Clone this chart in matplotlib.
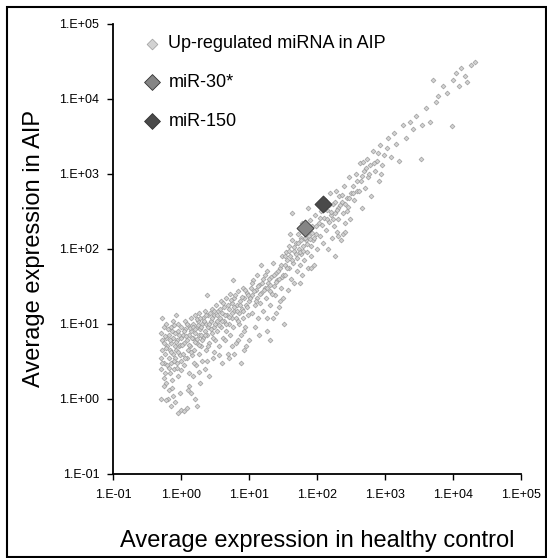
import numpy as np
import matplotlib.pyplot as plt
from matplotlib.ticker import FixedLocator, FuncFormatter, NullLocator
from matplotlib.patches import Rectangle

plt.rcParams['font.family'] = ['Liberation Sans', 'DejaVu Sans']

# average expression in healthy control (x) and in AIP (y)
ctrl = [
    0.5, 0.5, 0.5, 0.52, 0.52, 0.5, 0.52, 0.55, 0.55, 0.55, 0.58, 0.58, 0.6, 0.6, 0.6, 0.62, 0.62,
    0.65, 0.65, 0.65, 0.68, 0.68, 0.7, 0.7, 0.7, 0.72, 0.75, 0.75, 0.75, 0.78, 0.8, 0.8, 0.8, 0.82,
    0.85, 0.85, 0.88, 0.88, 0.9, 0.9, 0.92, 0.95, 0.95, 0.98, 1.0, 1.0, 1.0, 0.7, 0.75, 0.55,
    1.1, 1.2, 1.4, 1.6, 1.7, 1.3, 0.9,
    0.53, 0.57, 0.6, 0.63, 0.66, 0.69, 0.71, 0.74, 0.77, 0.79, 0.83, 0.86, 0.89, 0.91, 0.94, 0.97,
    0.99, 0.56, 0.64, 0.72, 0.6,
    1.05, 1.05, 1.1, 1.1, 1.15, 1.15, 1.2, 1.2, 1.25, 1.25, 1.3, 1.3, 1.35, 1.4, 1.4, 1.45, 1.5, 1.5,
    1.55, 1.6, 1.6, 1.65, 1.7, 1.7, 1.75, 1.8, 1.8, 1.85, 1.9, 1.95, 2.0, 2.0, 2.1, 2.1, 2.2, 2.2,
    2.3, 2.3, 2.4, 2.4, 2.5, 2.5, 2.6, 2.7, 2.8, 2.8, 2.9, 3.0, 3.0, 3.1, 3.2, 1.5, 2.2, 2.6, 1.9,
    1.02, 1.08, 1.12, 1.18, 1.22, 1.28, 1.33, 1.38, 1.42, 1.48, 1.52, 1.58, 1.62, 1.68, 1.72, 1.78,
    1.83, 1.88, 1.92, 1.98, 2.05, 2.15, 2.25, 2.35, 2.45, 2.55, 2.65, 2.75, 2.85, 2.95, 3.05, 3.15,
    1.25, 1.8, 2.4, 3.0,
    3.3, 3.4, 3.5, 3.6, 3.7, 3.8, 3.9, 4.0, 4.1, 4.2, 4.3, 4.5, 4.5, 4.7, 4.8, 5.0, 5.0, 5.2, 5.3,
    5.5, 5.5, 5.7, 5.8, 6.0, 6.0, 6.3, 6.4, 6.5, 6.8, 7.0, 7.0, 7.3, 7.5, 7.8, 8.0, 8.0, 8.3, 8.5,
    8.8, 9.0, 9.2, 9.5, 9.8, 10, 4.0, 5.0, 6.0, 7.5, 9,
    3.35, 3.55, 3.75, 3.95, 4.15, 4.35, 4.6, 4.9, 5.1, 5.4, 5.6, 5.9, 6.2, 6.6, 6.9, 7.2, 7.7, 8.2,
    8.7, 9.3, 9.7, 5.5, 6.8, 8.5, 4.4, 3.6,
    10.5, 11, 11, 11.5, 12, 12, 12.5, 13, 13, 13.5, 14, 14.5, 15, 15, 16, 16, 17, 17.5, 18, 18,
    19, 20, 20, 21, 22, 22, 23, 24, 25, 26, 27, 28, 29, 30, 30, 31, 32, 14, 20,
    10.2, 10.8, 11.8, 12.6, 13.3, 14.2, 15.5, 16.5, 17.2, 18.5, 19.5, 20.5, 21.5, 23.5, 24.5, 26.5,
    27.5, 29.5, 31.5, 25, 18, 28,
    33, 34, 35, 36, 37, 38, 39, 40, 41, 42, 43, 44, 45, 46, 48, 50, 50, 52, 53, 55, 57, 58, 60, 60,
    62, 64, 66, 68, 70, 72, 72, 75, 78, 80, 82, 85, 88, 90, 92, 95, 98,
    33, 36, 39, 42, 45, 48, 52, 55, 58, 62, 66, 70, 74, 78, 84, 90, 96, 40, 55, 80,
    105, 110, 115, 120, 125, 130, 135, 140, 145, 150, 155, 160, 165, 170, 175, 180, 190, 195, 200,
    205, 210, 220, 230, 240, 250, 260, 270, 280, 290, 300, 310, 180, 240,
    108, 118, 128, 138, 148, 158, 172, 185, 198, 215, 235, 255, 275, 295, 205, 260,
    330, 350, 370, 390, 420, 440, 460, 480, 500, 530, 560, 600, 620, 650, 700, 750, 800, 850, 900, 950,
    340, 380, 410, 450, 470, 520, 580, 680, 780, 880,
    1050, 1100, 1200, 1350, 1450, 1600, 1800, 2000, 2300, 2600, 2800,
    3300, 3500, 4000, 4500, 5000, 5500, 6000, 7000, 8000, 9500, 9800,
    11000, 12000, 13000, 15000, 18000, 21000, 16000,
]
aip = [
    1.0, 2.5, 3.5, 4.5, 6, 7.5, 12, 3, 5.5, 9, 2.2, 4, 1.6, 6.5, 10, 2.8, 5,
    3.5, 7, 1.3, 4.5, 2.2, 9, 5.5, 3, 1.8, 4, 6.5, 11, 2.5, 5, 3.5, 0.9, 7.5,
    4.5, 13, 3, 6, 2, 8, 5, 3.8, 1.2, 6.5, 9, 0.7, 3.2, 0.8, 1.1, 1.5,
    0.68, 0.75, 1.2, 1.0, 0.8, 1.5, 0.65,
    3.0, 6.8, 4.8, 8.5, 2.6, 6, 4.2, 8, 3.2, 9.5, 5.8, 2.6, 10, 4.2, 7, 5.2,
    2.4, 1.9, 1.0, 1.4, 0.95,
    4, 7, 5.5, 2.8, 8.5, 11, 3.5, 6, 4.5, 9.5, 7, 2.2, 5, 12, 8, 3.8, 6.5, 10,
    4.5, 13, 7.5, 2.8, 9, 5.5, 11, 4, 7, 14, 8.5, 5, 10, 3.2, 12, 6.5, 8, 15,
    4.5, 10, 24, 7, 13, 9, 5.5, 11, 16, 7.5, 3.5, 13, 9, 6, 18, 2.0, 2.5, 2.0, 1.6,
    5.2, 8, 3.5, 6.8, 10, 5.2, 8.8, 4.2, 6.5, 9, 3, 5.8, 8.5, 11.5, 6.2, 9.5,
    5.2, 12, 7.2, 9, 6, 11, 7, 13, 5, 10, 14, 8.5, 12, 6.5, 15, 10,
    1.3, 2.3, 3.2, 4.2,
    11, 8, 15, 5, 12, 20, 9, 14, 6.5, 17, 11, 22, 8, 13, 4, 16, 10, 25, 7,
    19, 12, 38, 9, 15, 22, 5.5, 12, 18, 27, 10, 14, 20, 7, 16, 30, 12, 4.5, 22,
    9, 18, 26, 13, 6, 20, 3, 3.5, 4, 3, 5,
    13, 9.5, 16, 11, 19, 13, 10, 18, 12.5, 21, 14, 17, 24, 15, 11, 18, 23, 15,
    28, 17, 24, 5, 6, 8, 6, 3.8,
    30, 14, 24, 38, 18, 9, 28, 45, 22, 12, 33, 19, 26, 60, 40, 15, 30, 22, 50, 8,
    35, 18, 27, 42, 65, 12, 32, 24, 48, 38, 17, 55, 30, 80, 42, 22, 10, 7, 6,
    22, 35, 27, 20, 32, 25, 35, 28, 45, 30, 40, 33, 25, 45, 36, 50,
    40, 60, 45, 14, 12, 20,
    60, 45, 90, 70, 28, 110, 55, 80, 40, 130, 300, 65, 95, 35, 120, 75, 50, 160, 100, 60, 140, 85, 45, 220,
    110, 70, 175, 130, 90, 350, 55, 150, 240, 110, 80, 200, 130, 60, 280, 160, 100,
    80, 55, 95, 70, 105, 85, 120, 90, 130, 95, 140, 115, 180, 135, 165, 140, 200, 160, 35, 55,
    220, 150, 320, 120, 260, 450, 180, 330, 100, 230, 550, 280, 140, 400, 200, 300, 600, 170, 350,
    250, 500, 130, 420, 300, 700, 220, 480, 360, 900, 250, 550, 80, 160,
    260, 210, 340, 250, 380, 310, 250, 420, 330, 380, 520, 400, 320, 480, 150, 170,
    700, 450, 1000, 600, 1400, 800, 350, 1100, 650, 1600, 900, 1300, 500, 2000, 1100, 1500, 800, 2400, 1300, 1800,
    550, 800, 600, 950, 1450, 1200, 1000, 1400, 1900, 1000,
    2200, 3000, 1700, 3500, 2500, 1500, 4500, 3000, 5000, 4000, 6000,
    1600, 4500, 7500, 5000, 18000, 9000, 11000, 15000, 12000, 4400, 18000,
    22000, 15000, 26000, 20000, 28000, 31000, 17000,
]

highlight_names = ['miR-30*', 'miR-150']
highlight_ctrl = [65, 122]
highlight_aip = [190, 393]
highlight_colors = ['#858585', '#4a4a4a']

decades = [1e-1, 1e0, 1e1, 1e2, 1e3, 1e4, 1e5]

fig = plt.figure(figsize=(5.47, 5.58), dpi=100)
ax = fig.add_axes([0.207, 0.151, 0.746, 0.806])

ax.scatter(ctrl, aip, marker='D', s=6, color='#d2d2d2', edgecolors='#9c9c9c',
           linewidths=0.5, label='Up-regulated miRNA in AIP', zorder=2)
for name, x, y, c in zip(highlight_names, highlight_ctrl, highlight_aip, highlight_colors):
    ax.scatter([x], [y], marker='D', s=75, color=c, edgecolors='#333333', linewidths=0.6,
               label=name, zorder=3)

ax.set_xscale('log')
ax.set_yscale('log')
ax.set_xlim(1e-1, 1e5)
ax.set_ylim(1e-1, 1e5)

fmt = FuncFormatter(lambda v, p: '1.E%+03d' % int(round(np.log10(v))))
for axis in (ax.xaxis, ax.yaxis):
    axis.set_major_locator(FixedLocator(decades))
    axis.set_minor_locator(NullLocator())
    axis.set_major_formatter(fmt)
ax.tick_params(axis='both', labelsize=9, length=4, width=1, direction='out', pad=6)
ax.tick_params(axis='x', pad=7)

for s in ('top', 'right'):
    ax.spines[s].set_visible(False)
for s in ('left', 'bottom'):
    ax.spines[s].set_linewidth(1.3)

ax.set_xlabel('Average expression in healthy control', fontsize=17, labelpad=21)
ax.set_ylabel('Average expression in AIP', fontsize=17, labelpad=10)

leg = ax.legend(loc='upper left', bbox_to_anchor=(0.051, 0.991), frameon=False, fontsize=13,
                labelspacing=1.2, handlelength=1.2, handletextpad=0.3, borderaxespad=0)
leg.legend_handles[0].set_sizes([30])
leg.legend_handles[1].set_sizes([65])
leg.legend_handles[2].set_sizes([65])

fig.patches.append(Rectangle((0.013, 0.002), 0.985, 0.985, transform=fig.transFigure,
                             fill=False, edgecolor='black', linewidth=1.5))

fig.savefig('out.png', dpi=100)
